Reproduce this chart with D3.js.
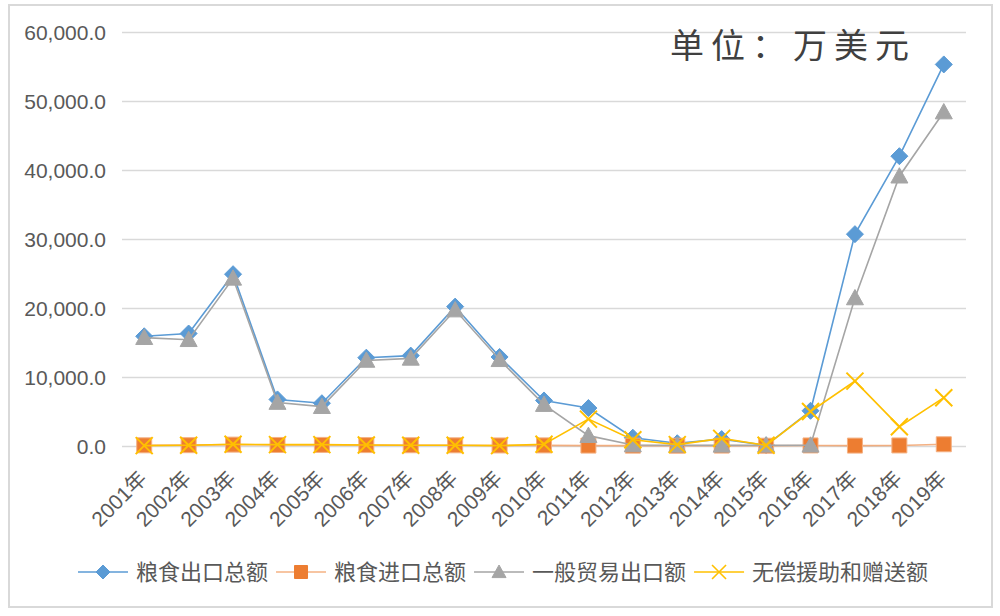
<!DOCTYPE html>
<html><head><meta charset="utf-8">
<script src="https://cdn.jsdelivr.net/npm/d3@7"></script>
<style>body{margin:0;background:#fff}svg{display:block}</style>
</head><body>
<svg id="c" width="1000" height="616"></svg>
<script>
const categories = ["2001年","2002年","2003年","2004年","2005年","2006年","2007年","2008年","2009年","2010年","2011年","2012年","2013年","2014年","2015年","2016年","2017年","2018年","2019年"];
const grainExport = [15900,16300,24900,6750,6200,12800,13100,20200,12900,6600,5500,1200,400,1000,100,5100,30700,42000,55300];
const grainImport = [100,120,200,150,160,130,110,100,80,90,60,50,40,60,40,80,60,80,250];
const generalTrade = [15700,15400,24300,6300,5700,12400,12700,19700,12500,6000,1500,150,100,100,100,100,21450,39100,48400];
const aidDonation = [50,100,250,200,200,150,100,100,50,250,3900,900,200,1100,100,5000,9400,2800,7000];
const seriesNames = ["粮食出口总额","粮食进口总额","一般贸易出口额","无偿援助和赠送额"];
const yTicks = [0,10000,20000,30000,40000,50000,60000];
const unitTitle = "单位：万美元";

const svg = d3.select("#c");
const colors = ["#5b9bd5","#ed7d31","#a5a5a5","#ffc000"];
const markers = ["diamond","square","triangle","x"];
const seriesData = [grainExport, grainImport, generalTrade, aidDonation];

// frame
svg.append("rect").attr("x",9).attr("y",5).attr("width",983).attr("height",602)
  .attr("fill","#fff").attr("stroke","#d9d9d9").attr("stroke-width",2);

const x = d3.scaleBand().domain(categories).range([122,966]).padding(0);
const cx = c => x(c) + x.bandwidth()/2;
const y = d3.scaleLinear().domain([0,60000]).range([446,32]);

// gridlines
const yAxis = d3.axisLeft(y).tickValues(yTicks).tickFormat(d3.format(",.1f")).tickSize(-844).tickPadding(16);
const gy = svg.append("g").attr("transform","translate(122,0)").call(yAxis);
gy.select(".domain").remove();
gy.selectAll(".tick line").attr("stroke","#d9d9d9").attr("stroke-width",1.5);
gy.selectAll(".tick text").attr("fill","#595959").attr("font-family","Liberation Sans, Arial, sans-serif").attr("font-size",21).attr("dy","0.35em").attr("x",-16);

// x axis labels
const xAxis = d3.axisBottom(x).tickSize(0).tickPadding(0);
const gx = svg.append("g").attr("transform","translate(0,446)").call(xAxis);
gx.select(".domain").remove();
gx.selectAll(".tick text")
  .attr("fill","#595959").attr("font-family","Liberation Sans, 'Noto Sans CJK SC', sans-serif").attr("font-size",21)
  .attr("text-anchor","end").attr("dy",0).attr("y",0)
  .attr("transform","translate(4,34) rotate(-45)");

// series
const symPath = (type, s) => {
  if (type === "diamond") return `M0,${-s}L${s},0L0,${s}L${-s},0Z`;
  if (type === "square") return `M${-s},${-s}H${s}V${s}H${-s}Z`;
  if (type === "triangle") return `M0,${-s}L${s},${s*0.8}L${-s},${s*0.8}Z`;
  return `M${-s},${-s}L${s},${s}M${s},${-s}L${-s},${s}`;
};
const line = d3.line().x((d,i)=>cx(categories[i])).y(d=>y(d));
seriesData.forEach((vals, k) => {
  const g = svg.append("g");
  g.append("path").datum(vals).attr("d", line).attr("fill","none")
    .attr("stroke", colors[k]).attr("stroke-width", 1.6).attr("stroke-opacity", k===1?0.6:1);
  const sz = [8.5,7.5,8.5,8.5][k];
  g.selectAll("path.m").data(vals).join("path").attr("class","m")
    .attr("transform",(d,i)=>`translate(${cx(categories[i])},${y(d)})`)
    .attr("d", symPath(markers[k], sz))
    .attr("fill", markers[k]==="x" ? "none" : colors[k])
    .attr("stroke", markers[k]==="x" ? colors[k] : (k===1?"#f4b183":colors[k]))
    .attr("stroke-width", markers[k]==="x" ? 2 : 1);
});

// title
svg.append("text").attr("x",670).attr("y",58).text(unitTitle)
  .attr("font-family","'Noto Sans CJK SC', sans-serif").attr("font-size",34)
  .attr("letter-spacing",7).attr("fill","#404040");

// legend
const lg = svg.append("g").attr("transform","translate(78,572)");
let lx = 0;
seriesNames.forEach((n,k) => {
  const it = lg.append("g").attr("transform",`translate(${lx},0)`);
  it.append("line").attr("x1",0).attr("x2",50).attr("y1",0).attr("y2",0)
    .attr("stroke",colors[k]).attr("stroke-width",1.6).attr("stroke-opacity",k===1?0.6:1);
  it.append("path").attr("transform","translate(25,0)").attr("d",symPath(markers[k], [7,6.5,7,7][k]))
    .attr("fill", markers[k]==="x"?"none":colors[k]).attr("stroke",colors[k]).attr("stroke-width",markers[k]==="x"?1.6:1);
  const t = it.append("text").attr("x",58).attr("y",0).attr("dy","0.36em").text(n)
    .attr("font-family","'Noto Sans CJK SC', sans-serif").attr("font-size",22).attr("fill","#595959");
  lx += 58 + t.node().getComputedTextLength() + 8;
});
</script>
</body></html>
